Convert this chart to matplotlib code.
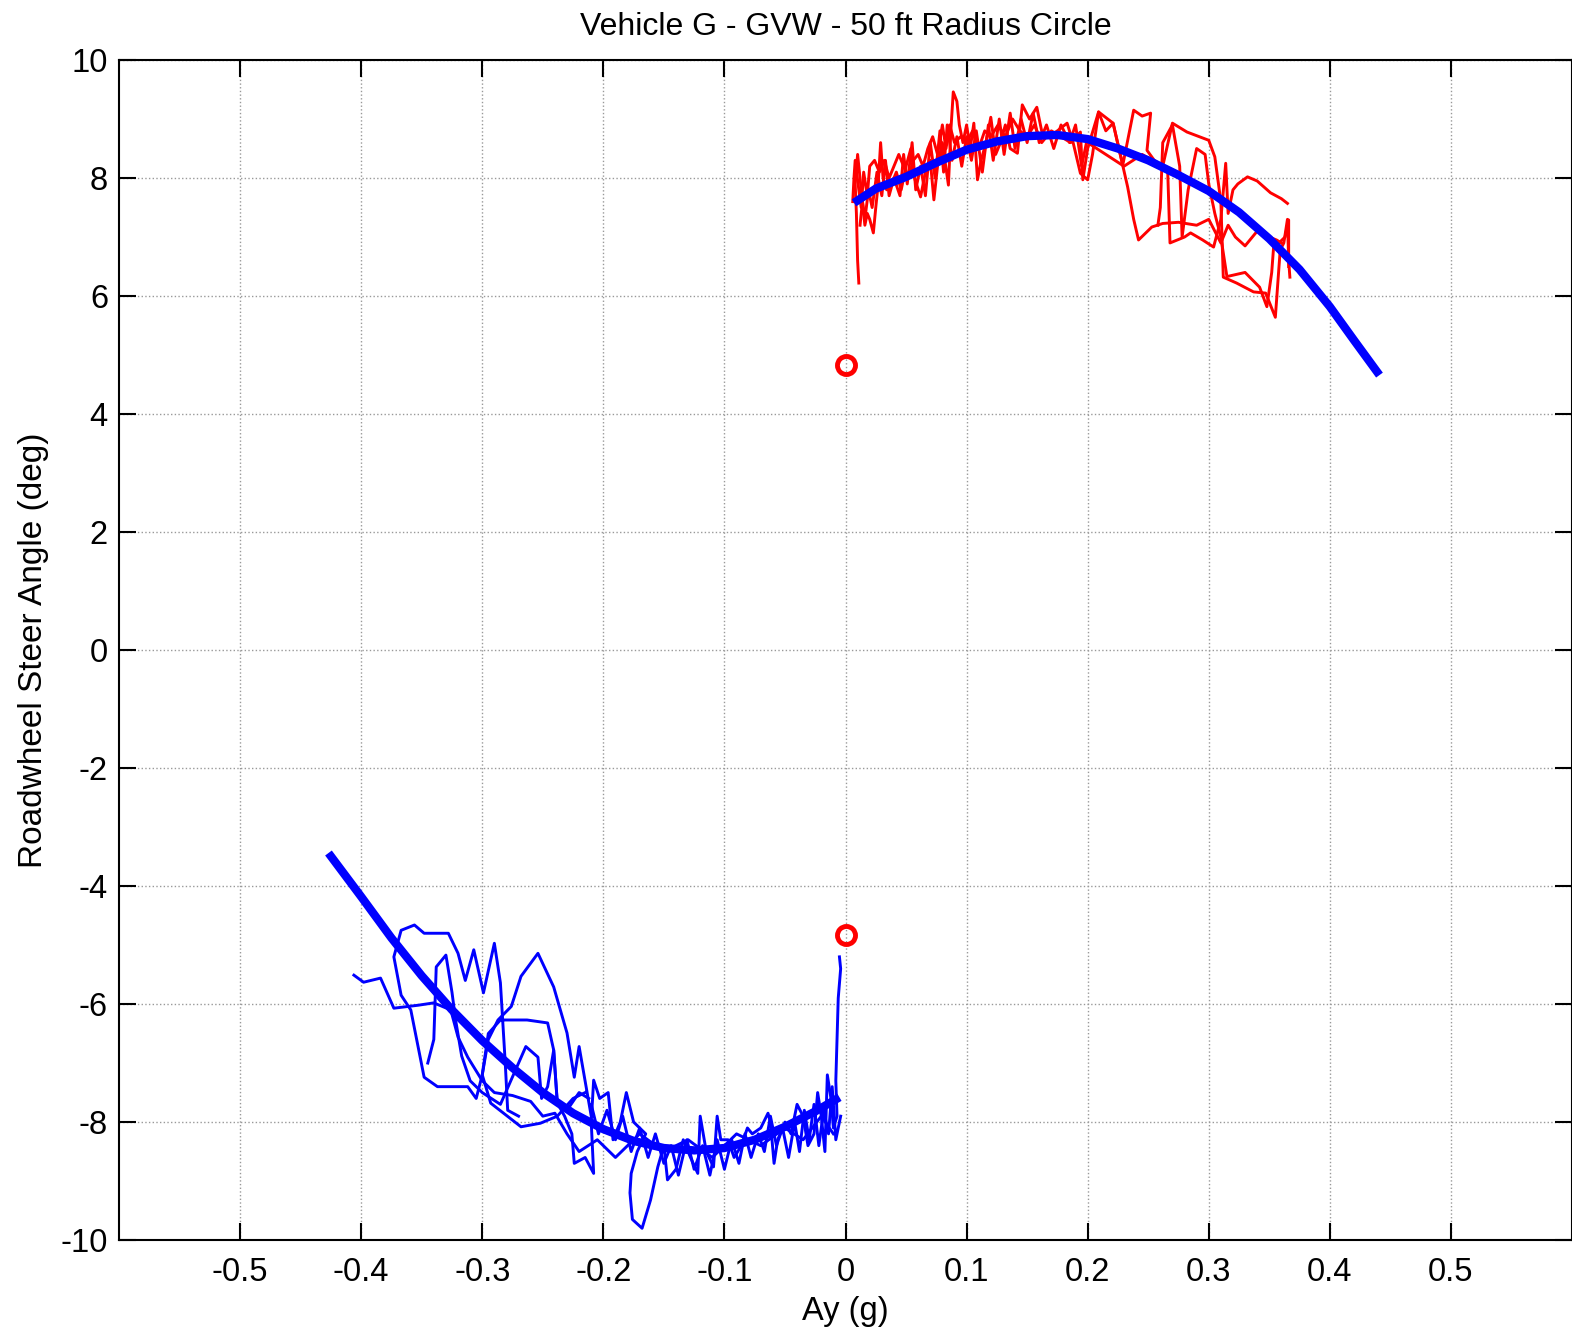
import numpy as np
import matplotlib.pyplot as plt

plt.rcParams['font.family'] = ['Liberation Sans', 'DejaVu Sans']
plt.rcParams['axes.unicode_minus'] = False

# --- measured traces, positive turn (red) ---
r1_x = [0.011, 0.010, 0.009, 0.008, 0.010, 0.012, 0.014, 0.016, 0.018, 0.020, 0.023, 0.025, 0.027, 0.029,
        0.031, 0.034, 0.038, 0.042, 0.046, 0.050, 0.054, 0.057, 0.062, 0.066, 0.070, 0.073, 0.076, 0.080,
        0.085, 0.087, 0.089, 0.092, 0.094, 0.097, 0.100, 0.103, 0.106, 0.109, 0.112, 0.116, 0.120, 0.124,
        0.128, 0.132, 0.136, 0.142, 0.146, 0.152, 0.158, 0.162, 0.168, 0.175, 0.183, 0.188, 0.194, 0.200,
        0.204, 0.209, 0.215, 0.221, 0.229, 0.238, 0.245, 0.252, 0.249, 0.255, 0.262, 0.270, 0.282, 0.300,
        0.305, 0.310, 0.312, 0.323, 0.337, 0.347, 0.355, 0.359, 0.362, 0.365, 0.366, 0.367]
r1_y = [6.22, 6.6, 7.4, 7.9, 8.4, 8.0, 7.6, 7.2, 7.4, 7.3, 7.07, 7.5, 7.9, 8.6,
        8.0, 7.8, 7.9, 8.1, 7.8, 8.2, 8.5, 8.0, 7.68, 8.1, 8.3, 7.63, 8.2, 8.6,
        7.88, 8.8, 9.46, 9.3, 8.9, 8.6, 8.9, 8.5, 8.93, 7.97, 8.3, 8.6, 9.03, 8.4,
        8.6, 8.9, 8.5, 8.42, 9.24, 9.0, 9.2, 8.8, 8.7, 8.8, 8.93, 8.6, 8.08, 7.97,
        8.4, 9.12, 8.8, 8.93, 8.22, 9.15, 9.05, 9.1, 8.47, 8.3, 8.2, 8.93, 8.78, 8.64,
        8.36, 7.6, 6.32, 6.22, 6.07, 6.05, 5.64, 6.78, 6.9, 7.3, 6.6, 6.32]

r2_x = [0.006, 0.007, 0.008, 0.011, 0.013, 0.015, 0.018, 0.020, 0.024, 0.028, 0.032, 0.036, 0.040, 0.044,
        0.048, 0.052, 0.056, 0.060, 0.064, 0.068, 0.072, 0.076, 0.080, 0.083, 0.086, 0.090, 0.095, 0.100,
        0.105, 0.110, 0.115, 0.120, 0.126, 0.132, 0.138, 0.144, 0.150, 0.156, 0.162, 0.170, 0.178, 0.186,
        0.194, 0.196, 0.200, 0.209, 0.221, 0.233, 0.238, 0.242, 0.253, 0.262, 0.275, 0.290, 0.300, 0.305,
        0.310, 0.316, 0.322, 0.330, 0.340, 0.350, 0.356, 0.360]
r2_y = [7.6, 8.0, 8.3, 7.8, 7.5, 8.1, 7.7, 8.2, 8.3, 8.1, 8.3, 8.0, 8.2, 8.4,
        8.2, 8.0, 8.3, 8.4, 8.2, 8.5, 8.7, 8.4, 8.9, 8.5, 8.9, 8.6, 8.7, 8.6,
        8.8, 8.5, 8.8, 8.7, 8.9, 8.7, 9.0, 8.8, 8.7, 8.9, 8.6, 8.8, 8.7, 8.6,
        8.78, 7.97, 8.5, 9.12, 8.93, 7.85, 7.3, 6.95, 7.17, 7.23, 7.25, 7.2, 7.3, 7.1,
        6.9, 7.2, 7.0, 6.85, 7.1, 7.0, 6.95, 6.9]

r3_x = [0.200, 0.215, 0.230, 0.245, 0.262, 0.266, 0.268, 0.280, 0.285, 0.295, 0.304, 0.310, 0.314,
        0.316, 0.320, 0.324, 0.332, 0.340, 0.351, 0.360, 0.365]
r3_y = [8.6, 8.4, 8.2, 8.4, 8.2, 8.18, 6.9, 7.0, 7.07, 6.95, 6.83, 7.3, 8.25,
        7.4, 7.8, 7.9, 8.02, 7.95, 7.75, 7.65, 7.57]

r4_x = [0.258, 0.260, 0.262, 0.270, 0.276, 0.278, 0.283, 0.290, 0.297, 0.300, 0.305, 0.310, 0.315,
        0.330, 0.342, 0.348, 0.352, 0.354, 0.358, 0.363, 0.366, 0.366]
r4_y = [7.2, 7.5, 8.6, 8.9, 8.2, 7.0, 7.8, 8.5, 8.4, 7.9, 7.4, 7.0, 6.33,
        6.4, 6.15, 5.82, 6.4, 6.95, 6.9, 7.0, 7.29, 6.5]

r5_x = [0.012, 0.014, 0.016, 0.019, 0.022, 0.026, 0.030, 0.033, 0.036, 0.040, 0.045, 0.048, 0.051, 0.055,
        0.058, 0.062, 0.066, 0.070, 0.074, 0.078, 0.081, 0.084, 0.088, 0.092, 0.096, 0.100, 0.104, 0.108,
        0.113, 0.118, 0.122, 0.127, 0.131, 0.136, 0.140, 0.145, 0.150, 0.155, 0.160, 0.166, 0.172, 0.178,
        0.185, 0.190, 0.195, 0.200]
r5_y = [7.2, 7.6, 7.3, 7.8, 7.5, 8.1, 7.7, 8.3, 7.7, 8.0, 7.7, 8.4, 7.9, 8.6,
        7.8, 8.2, 7.7, 8.6, 8.0, 8.8, 8.1, 8.9, 8.3, 8.7, 8.2, 8.7, 8.3, 8.8,
        8.1, 8.9, 8.3, 9.0, 8.4, 9.1, 8.5, 9.0, 8.6, 9.1, 8.6, 8.9, 8.5, 8.9,
        8.6, 8.9, 8.2, 8.7]

# --- measured traces, negative turn (blue) ---
b1_x = [-0.005, -0.004, -0.006, -0.007, -0.008, -0.007, -0.010, -0.012, -0.015, -0.017, -0.020, -0.023,
        -0.026, -0.031, -0.035, -0.040, -0.045, -0.050, -0.056, -0.059, -0.062, -0.064, -0.070, -0.077,
        -0.081, -0.086, -0.092, -0.097, -0.103, -0.106, -0.109, -0.115, -0.120, -0.122, -0.128, -0.134,
        -0.140, -0.147, -0.150, -0.155, -0.161, -0.168, -0.176, -0.178, -0.177, -0.172, -0.165, -0.175,
        -0.181, -0.186, -0.192, -0.196, -0.203, -0.208, -0.210, -0.208, -0.215, -0.224, -0.226, -0.232,
        -0.240, -0.238, -0.241, -0.246, -0.263, -0.285, -0.295, -0.300, -0.305, -0.312, -0.337, -0.348,
        -0.359, -0.367, -0.373, -0.367, -0.356, -0.348, -0.328, -0.320, -0.314, -0.307, -0.299, -0.290,
        -0.285, -0.281, -0.279, -0.270]
b1_y = [-5.2, -5.4, -5.9, -6.6, -7.3, -7.9, -8.1, -7.6, -7.2, -8.5, -7.9, -7.5,
        -8.2, -8.4, -7.9, -7.7, -8.2, -8.0, -8.3, -8.7, -8.0, -7.85, -8.1, -8.2,
        -8.1, -8.4, -8.6, -8.3, -8.3, -7.9, -8.76, -8.5, -7.9, -8.87, -8.6, -8.3,
        -8.8, -8.98, -8.4, -8.76, -9.32, -9.8, -9.65, -9.2, -8.87, -8.5, -8.2, -8.0,
        -7.5, -8.0, -8.3, -7.5, -7.6, -7.29, -8.0, -8.87, -8.6, -8.7, -8.2, -7.9,
        -7.6, -7.68, -6.78, -6.32, -6.27, -6.27, -6.5, -7.2, -7.6, -7.4, -7.4, -7.24,
        -6.1, -5.85, -5.2, -4.75, -4.66, -4.8, -4.8, -5.14, -5.6, -5.08, -5.81, -4.97,
        -5.64, -7.0, -7.8, -7.9]

b2_x = [-0.406, -0.398, -0.384, -0.373, -0.353, -0.340, -0.326, -0.320, -0.312, -0.300, -0.290, -0.275,
        -0.260, -0.250, -0.240, -0.230, -0.220, -0.205, -0.190, -0.170, -0.150, -0.130, -0.110, -0.090,
        -0.070, -0.050, -0.035, -0.020, -0.010]
b2_y = [-5.51, -5.63, -5.56, -6.07, -6.02, -5.98, -6.1, -6.56, -6.9, -7.3, -7.5, -7.55,
        -7.65, -7.9, -7.85, -8.2, -8.5, -8.3, -8.6, -8.2, -8.5, -8.3, -8.6, -8.2,
        -8.4, -8.1, -8.3, -7.9, -8.2]

b3_x = [-0.210, -0.220, -0.224, -0.230, -0.241, -0.254, -0.268, -0.276, -0.287, -0.295, -0.300, -0.293,
        -0.268, -0.252, -0.238, -0.225, -0.215]
b3_y = [-7.9, -6.72, -7.24, -6.49, -5.71, -5.14, -5.53, -6.04, -6.27, -6.6, -7.2, -7.68,
        -8.08, -8.02, -7.9, -7.6, -7.5]

b4_x = [-0.345, -0.340, -0.338, -0.330, -0.325, -0.322, -0.317, -0.310, -0.300, -0.285, -0.264, -0.254,
        -0.251, -0.246, -0.241, -0.238, -0.230, -0.220, -0.212]
b4_y = [-7.0, -6.6, -5.37, -5.17, -5.8, -6.27, -6.88, -7.3, -7.5, -7.7, -6.72, -6.9,
        -7.6, -7.4, -6.78, -7.68, -7.8, -7.5, -7.6]

b5_x = [-0.004, -0.008, -0.011, -0.014, -0.018, -0.022, -0.026, -0.030, -0.034, -0.038, -0.042, -0.047,
        -0.052, -0.057, -0.062, -0.067, -0.072, -0.078, -0.083, -0.088, -0.094, -0.100, -0.106, -0.112,
        -0.118, -0.125, -0.131, -0.138, -0.144, -0.150, -0.157, -0.163, -0.170, -0.177, -0.184, -0.190,
        -0.197, -0.204, -0.210]
b5_y = [-7.9, -8.3, -7.4, -8.2, -7.8, -8.4, -7.7, -8.3, -7.8, -8.5, -8.0, -8.6,
        -8.1, -8.4, -7.9, -8.5, -8.2, -8.6, -8.2, -8.7, -8.3, -8.8, -8.3, -8.9,
        -8.4, -8.8, -8.3, -8.9, -8.4, -8.7, -8.2, -8.6, -8.1, -8.5, -7.9, -8.3,
        -7.8, -8.2, -7.7]

# --- fitted curves ---
fit_pos_x = [0.007, 0.025, 0.05, 0.075, 0.10, 0.125, 0.15, 0.175, 0.20, 0.225, 0.25, 0.275, 0.30,
             0.325, 0.35, 0.375, 0.40, 0.42, 0.441]
fit_pos_y = [7.58, 7.82, 8.02, 8.26, 8.48, 8.62, 8.71, 8.73, 8.66, 8.50, 8.30, 8.05, 7.78,
             7.42, 6.97, 6.45, 5.82, 5.25, 4.66]
fit_neg_x = [-0.427, -0.40, -0.375, -0.35, -0.325, -0.30, -0.275, -0.25, -0.225, -0.20, -0.175,
             -0.15, -0.125, -0.10, -0.075, -0.05, -0.025, -0.005]
fit_neg_y = [-3.44, -4.18, -4.88, -5.52, -6.10, -6.62, -7.08, -7.50, -7.85, -8.12, -8.32,
             -8.44, -8.48, -8.44, -8.30, -8.08, -7.82, -7.58]

# --- zero-Ay markers ---
mark_x = [0.0, 0.0]
mark_y = [4.83, -4.83]

fig = plt.figure(figsize=(15.72, 13.37), dpi=100)
ax = fig.add_axes([0.0757, 0.0725, 0.9243, 0.8826])

for xs, ys in [(r1_x, r1_y), (r2_x, r2_y), (r3_x, r3_y), (r4_x, r4_y), (r5_x, r5_y)]:
    ax.plot(xs, ys, color='red', linewidth=2.1)
for xs, ys in [(b1_x, b1_y), (b2_x, b2_y), (b3_x, b3_y), (b4_x, b4_y), (b5_x, b5_y)]:
    ax.plot(xs, ys, color='blue', linewidth=2.1)

ax.plot(fit_pos_x, fit_pos_y, color='blue', linewidth=6, solid_capstyle='butt', solid_joinstyle='round')
ax.plot(fit_neg_x, fit_neg_y, color='blue', linewidth=6, solid_capstyle='butt', solid_joinstyle='round')
ax.plot(mark_x, mark_y, linestyle='none', marker='o', markersize=13,
        markerfacecolor='none', markeredgecolor='red', markeredgewidth=3.5)

ax.set_xlim(-0.6, 0.6)
ax.set_ylim(-10, 10)
ax.set_xticks(np.arange(-0.5, 0.51, 0.1))
ax.set_xticklabels(['-0.5', '-0.4', '-0.3', '-0.2', '-0.1', '0', '0.1', '0.2', '0.3', '0.4', '0.5'])
ax.set_yticks(np.arange(-10, 11, 2))
ax.tick_params(direction='in', length=12, width=1.5, top=True, right=True, labelsize=23.5)
ax.tick_params(axis='x', pad=12)
ax.tick_params(axis='y', pad=8)
ax.grid(True, linestyle=':', color='#999999', linewidth=1.0)
for s in ax.spines.values():
    s.set_linewidth(1.5)

ax.set_title('Vehicle G - GVW - 50 ft Radius Circle', fontsize=23, pad=18)
ax.set_xlabel('Ay (g)', fontsize=23.5, labelpad=6)
ax.set_ylabel('Roadwheel Steer Angle (deg)', fontsize=24, labelpad=8)

fig.savefig('out.png', dpi=100)
